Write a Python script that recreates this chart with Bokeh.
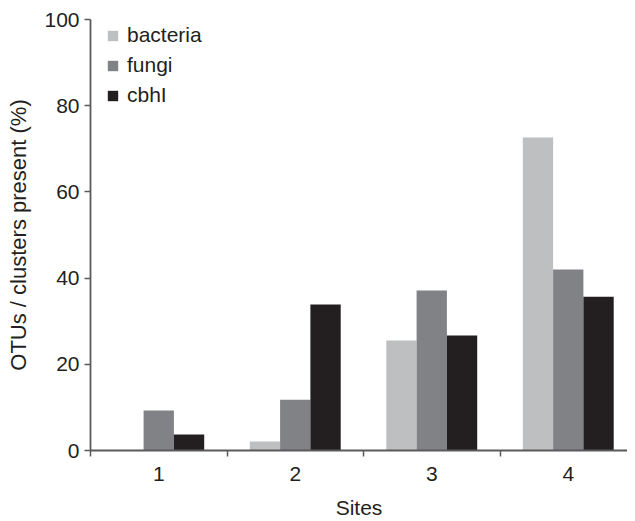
from bokeh.plotting import figure
from bokeh.models import ColumnDataSource, Range1d, FixedTicker, Legend, LegendItem
from bokeh.transform import dodge
from bokeh.embed import file_html
from bokeh.resources import INLINE

sites = [1, 2, 3, 4]
site_labels = ["1", "2", "3", "4"]
bacteria = [0.0, 2.1, 25.5, 72.6]
fungi = [9.3, 11.8, 37.1, 42.0]
cbhI = [3.7, 33.9, 26.7, 35.7]
y_ticks = [0, 20, 40, 60, 80, 100]

series_names = ["bacteria", "fungi", "cbhI"]
colors = ["#BEBFC1", "#818285", "#231F20"]

src = ColumnDataSource(dict(site=sites, bacteria=bacteria, fungi=fungi, cbhI=cbhI))

FONT = "Liberation Sans"
AX = "#5A5A5C"
TXT = "#231F20"

FW, FH = 537, 431
p = figure(frame_width=FW, frame_height=FH, output_backend="svg", toolbar_location=None,
           x_range=Range1d(0.5, 0.5 + FW / 136.5), y_range=Range1d(0, 100),
           min_border_left=90, min_border_right=0, min_border_top=19, min_border_bottom=67)
p.outline_line_color = None
p.grid.grid_line_color = None
p.background_fill_color = "white"

bw = 0.222
offsets = [-bw, 0.0, bw]
renderers = []
for name, col, off in zip(series_names, colors, offsets):
    r = p.vbar(x=dodge("site", off), top=name, width=bw, bottom=0, source=src,
               fill_color=col, line_color=None)
    renderers.append(r)

item_h, gap = 26, 4
leg_h = 3 * item_h + 2 * gap
legend = Legend(items=[LegendItem(label=n, renderers=[r]) for n, r in zip(series_names, renderers)],
                location=(16, FH - 3 - leg_h))
legend.border_line_color = None
legend.background_fill_alpha = 0
legend.margin = 0
legend.padding = 0
legend.glyph_width = 13
legend.glyph_height = 13
legend.label_height = item_h
legend.label_text_font = FONT
legend.label_text_font_size = "21px"
legend.label_text_color = TXT
legend.label_text_baseline = "middle"
legend.label_standoff = 8
legend.spacing = gap
p.add_layout(legend)

xa = p.xaxis[0]
xa.ticker = FixedTicker(ticks=sites, minor_ticks=[0.5, 1.5, 2.5, 3.5])
xa.major_label_overrides = {s: l for s, l in zip(sites, site_labels)}
xa.major_tick_line_color = None
xa.major_tick_out = 0
xa.major_tick_in = 0
xa.minor_tick_out = 6
xa.minor_tick_in = 0
xa.minor_tick_line_color = AX
xa.minor_tick_line_width = 1.5
xa.axis_line_color = AX
xa.axis_line_width = 1.8
xa.major_label_standoff = 10
xa.axis_label = "Sites"
xa.axis_label_standoff = 12

ya = p.yaxis[0]
ya.ticker = FixedTicker(ticks=y_ticks)
ya.minor_tick_line_color = None
ya.major_tick_out = 6
ya.major_tick_in = 0
ya.major_tick_line_color = AX
ya.major_tick_line_width = 1.5
ya.axis_line_color = AX
ya.axis_line_width = 1.8
ya.major_label_standoff = 5
ya.axis_label = "OTUs / clusters present (%)"
ya.axis_label_standoff = 10

for ax in (xa, ya):
    ax.major_label_text_font = FONT
    ax.major_label_text_font_size = "21px"
    ax.major_label_text_color = TXT
    ax.axis_label_text_font = FONT
    ax.axis_label_text_font_style = "normal"
    ax.axis_label_text_color = TXT
xa.axis_label_text_font_size = "21px"
ya.axis_label_text_font_size = "22px"

open("out.html", "w").write(file_html(p, INLINE))
